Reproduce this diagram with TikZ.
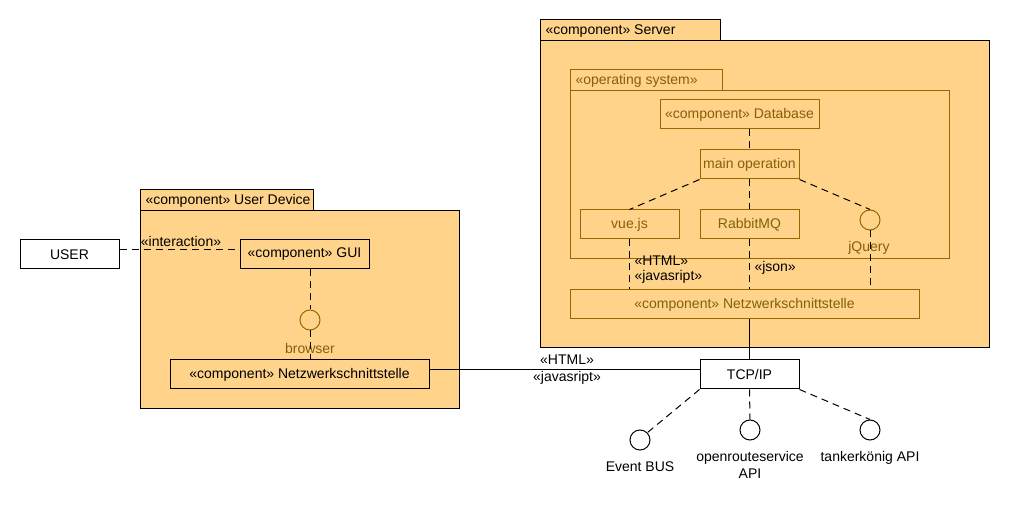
\documentclass[tikz,border=0pt]{standalone}
\usepackage{fontspec}
\setmainfont{Liberation Sans}
\definecolor{pkgfill}{HTML}{FFD38A}
\definecolor{inner}{HTML}{996600}
\definecolor{innertext}{HTML}{85600A}
\begin{document}
\begin{tikzpicture}[x=1pt,y=-1pt,
        font=\fontsize{14}{16}\selectfont,line width=1pt,
        box/.style={draw,minimum height=29pt,inner sep=0pt},
        ibox/.style={box,draw=inner,text=innertext},
        iface/.style={circle,draw,minimum size=20pt,inner sep=0pt},
        link/.style={dash pattern=on 7pt off 5pt},
        lbl/.style={inner sep=0pt}]
    \useasboundingbox (0,0) rectangle (1010,510);
    % packages
    \draw[fill=pkgfill] (540,20) rectangle (720,41);
    \draw[fill=pkgfill] (540,41) rectangle (989,348);
    \path (545,31) node[lbl,anchor=west] {«component» Server};
    \draw[draw=inner] (570,70) rectangle (722,91);
    \draw[draw=inner] (570,91) rectangle (949,259);
    \path (575,81) node[lbl,anchor=west,text=innertext] {«operating system»};
    \draw[fill=pkgfill] (140,190) rectangle (313,211);
    \draw[fill=pkgfill] (140,211) rectangle (459,409);
    \path (145,201) node[lbl,anchor=west] {«component» User Device};
    % server
    \node[ibox,minimum width=159pt] (db) at (739.5,114.5) {«component» Database};
    \node[ibox,minimum width=99pt] (mainop) at (749.5,164.5) {main operation};
    \node[ibox,minimum width=99pt] (vue) at (629.5,224.5) {vue.js};
    \node[ibox,minimum width=99pt] (rabbit) at (749.5,224.5) {RabbitMQ};
    \node[iface,draw=inner] (jquery) at (870,220) {};
    \path (869,248) node[lbl,text=innertext] {jQuery};
    \node[ibox,minimum width=349pt] (netzsrv) at (744.5,304.5) {«component» Netzwerkschnittstelle};
    \draw[link] (db.south -| mainop) -- (mainop.north);
    \draw[link] (mainop.south) -- (rabbit.north);
    \draw[link] (mainop.south west) -- (vue.north);
    \draw[link] (mainop.south east) -- (jquery.north);
    \draw[link] (vue.south) -- (vue.south |- netzsrv.north);
    \draw[link] (rabbit.south) -- (rabbit.south |- netzsrv.north);
    \draw[link] (jquery.south) -- (jquery.south |- netzsrv.north);
    \path (634,261) node[lbl,anchor=west] {«HTML»}
          (634,277) node[lbl,anchor=west] {«javasript»}
          (754,268) node[lbl,anchor=west] {«json»};
    % user device
    \node[box,fill=white,minimum width=99pt] (user) at (69.5,254.5) {USER};
    \node[box,minimum width=129pt] (gui) at (304.5,254.5) {«component» GUI};
    \node[iface,draw=inner] (browser) at (310,320) {};
    \path (310,348) node[lbl,text=innertext] {browser};
    \node[box,minimum width=259pt] (netzdev) at (299.5,374.5) {«component» Netzwerkschnittstelle};
    \draw[link] ([yshift=4.5pt]user.east) -- ([yshift=4.5pt]gui.west);
    \path (181,241) node[lbl] {«interaction»};
    \draw[link] (gui.south -| browser) -- (browser.north);
    \draw[link] (browser.south) -- (browser.south |- netzdev.north);
    % network
    \node[box,fill=white,minimum width=99pt] (tcp) at (749.5,374.5) {TCP/IP};
    \draw (netzsrv.south -| tcp) -- (tcp.north);
    \draw ([yshift=4.5pt]netzdev.east) -- ([yshift=4.5pt]tcp.west);
    \path (567,360) node[lbl] {«HTML»}
          (567,378) node[lbl] {«javasript»};
    \node[iface] (eventbus) at (640,440) {};
    \node[iface] (ors) at (750,430) {};
    \node[iface] (tanker) at (870,430) {};
    \path (640,467) node[lbl] {Event BUS}
          (750,458) node[lbl] {openrouteservice}
          (750,474) node[lbl] {API}
          (870,458) node[lbl] {tankerkönig API};
    \draw[link] (tcp.south west) -- (eventbus.north east);
    \draw[link] (tcp.south) -- (ors.north);
    \draw[link] (tcp.south east) -- (tanker.north);
\end{tikzpicture}
\end{document}
